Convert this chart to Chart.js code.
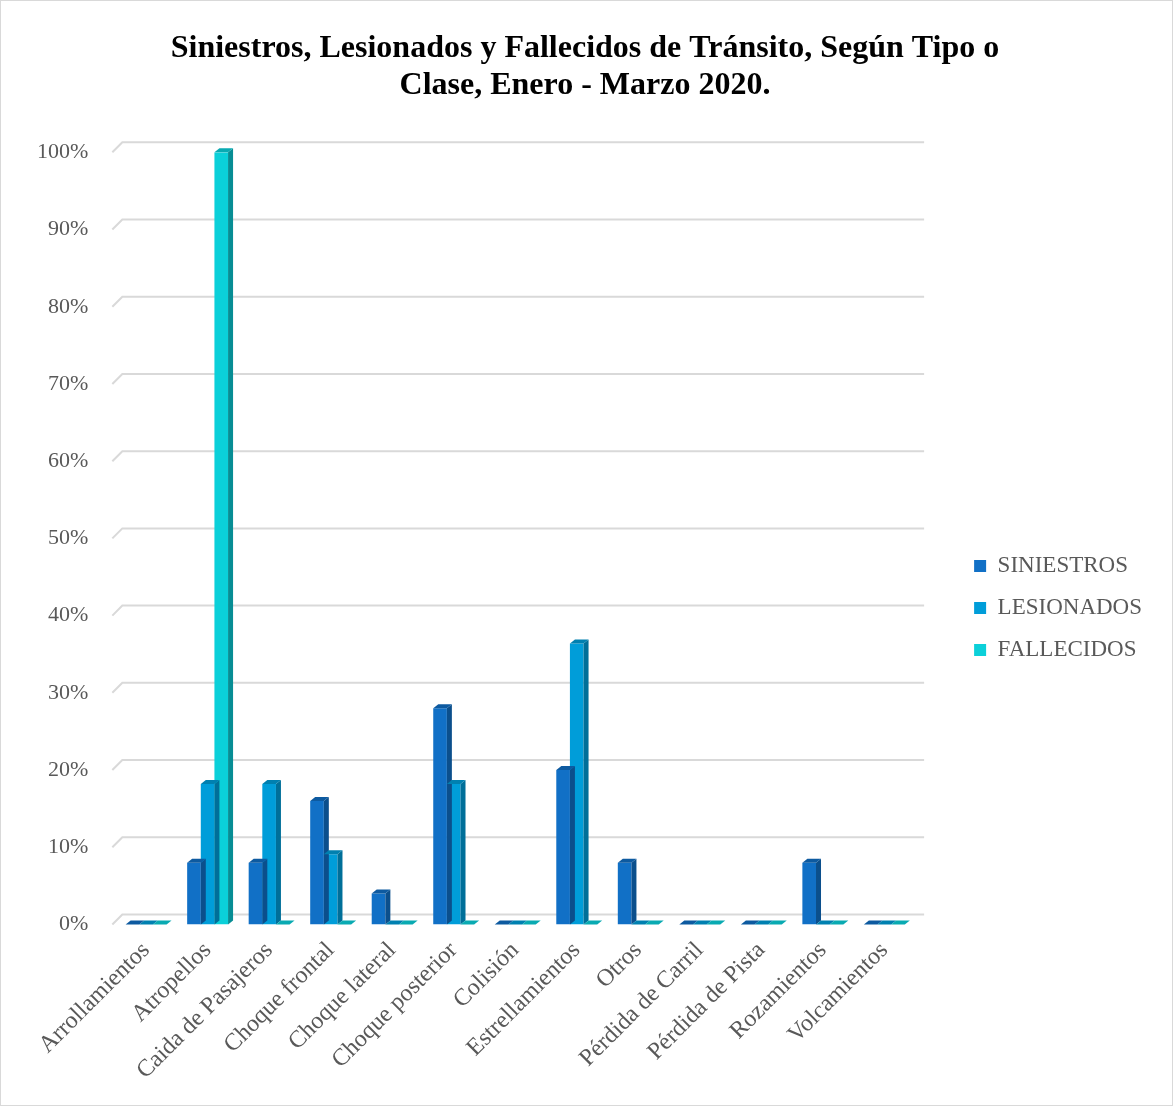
<!DOCTYPE html>
<html>
<head>
<meta charset="utf-8">
<script src="https://cdn.jsdelivr.net/npm/chart.js"></script>
<style>
  html, body { margin: 0; padding: 0; background: #fff; }
  #wrap { position: relative; width: 1173px; height: 1106px; box-sizing: border-box; border: 1px solid #d9d9d9; }
</style>
</head>
<body>
<div id="wrap"><canvas id="siniestrosChart"></canvas></div>
<script>
const categories = ['Arrollamientos', 'Atropellos', 'Caida de Pasajeros', 'Choque frontal', 'Choque lateral',
  'Choque posterior', 'Colisión', 'Estrellamientos', 'Otros', 'Pérdida de Carril', 'Pérdida de Pista',
  'Rozamientos', 'Volcamientos'];
const siniestros = [0, 8, 8, 16, 4, 28, 0, 20, 8, 0, 0, 8, 0];
const lesionados = [0, 18.2, 18.2, 9.1, 0, 18.2, 0, 36.4, 0, 0, 0, 0, 0];
const fallecidos = [0, 100, 0, 0, 0, 0, 0, 0, 0, 0, 0, 0, 0];
const yTicks = [0, 10, 20, 30, 40, 50, 60, 70, 80, 90, 100];

const colors = ['#1170C6', '#009DD9', '#0BD0D9'];
const sideColors = ['#0B4F8C', '#006F99', '#078D94'];
const topColors = ['#0D5AA0', '#0080B0', '#09AAB2'];

// gridlines on the back wall, offset like the 3D original
const backGrid = {
  id: 'backGrid',
  beforeDatasetsDraw(chart) {
    const ctx = chart.ctx, y = chart.scales.y, area = chart.chartArea;
    ctx.save();
    ctx.strokeStyle = '#d9d9d9';
    ctx.lineWidth = 2;
    yTicks.forEach(v => {
      const py = y.getPixelForValue(v);
      ctx.beginPath();
      ctx.moveTo(area.left - 3, py);
      ctx.lineTo(area.left + 7, py - 10);
      ctx.lineTo(area.right + 9, py - 10);
      ctx.stroke();
    });
    ctx.restore();
  }
};

// fake 3D faces on each bar
const bars3d = {
  id: 'bars3d',
  afterDatasetsDraw(chart) {
    const ctx = chart.ctx;
    const dx = 5, dy = 4;
    chart.data.datasets.forEach((ds, i) => {
      chart.getDatasetMeta(i).data.forEach(bar => {
        const left = bar.x - bar.width / 2, right = bar.x + bar.width / 2;
        const top = bar.y, base = bar.base;
        ctx.save();
        ctx.fillStyle = sideColors[i];
        ctx.beginPath();
        ctx.moveTo(right, base);
        ctx.lineTo(right, top);
        ctx.lineTo(right + dx, top - dy);
        ctx.lineTo(right + dx, base - dy);
        ctx.closePath();
        ctx.fill();
        ctx.fillStyle = topColors[i];
        ctx.beginPath();
        ctx.moveTo(left, top);
        ctx.lineTo(right, top);
        ctx.lineTo(right + dx, top - dy);
        ctx.lineTo(left + dx, top - dy);
        ctx.closePath();
        ctx.fill();
        ctx.restore();
      });
    });
  }
};

Chart.defaults.font.family = '"Liberation Serif", "Times New Roman", serif';
Chart.defaults.color = '#595959';

new Chart(document.getElementById('siniestrosChart'), {
  type: 'bar',
  data: {
    labels: categories,
    datasets: [
      { label: 'SINIESTROS', data: siniestros, backgroundColor: colors[0] },
      { label: 'LESIONADOS', data: lesionados, backgroundColor: colors[1] },
      { label: 'FALLECIDOS', data: fallecidos, backgroundColor: colors[2] }
    ]
  },
  options: {
    responsive: true,
    maintainAspectRatio: false,
    animation: false,
    layout: { padding: { left: 17, right: 20, top: 30, bottom: 16 } },
    datasets: { bar: { categoryPercentage: 0.665, barPercentage: 1.0 } },
    plugins: {
      title: {
        display: true,
        text: ['Siniestros, Lesionados y Fallecidos de Tránsito, Según Tipo o', 'Clase, Enero - Marzo 2020.'],
        color: '#000',
        font: { size: 32, weight: 'bold', lineHeight: 1.13 },
        padding: { top: 0, bottom: 49 }
      },
      legend: {
        position: 'right',
        maxWidth: 260,
        title: { display: true, text: ' ', font: { size: 10 }, padding: { top: 42, bottom: 42 } },
        labels: { boxWidth: 12, boxHeight: 12, padding: 19, font: { size: 23 }, color: '#595959' }
      },
      tooltip: { enabled: false }
    },
    scales: {
      x: {
        grid: { display: false },
        border: { display: false },
        ticks: { maxRotation: 45, minRotation: 45, font: { size: 24 }, color: '#595959', padding: 4 },
        afterFit: axis => { axis.paddingLeft = 0; axis.paddingRight = 0; }
      },
      y: {
        min: 0,
        max: 100,
        afterBuildTicks: axis => { axis.ticks = yTicks.map(v => ({ value: v })); },
        grid: { display: false },
        border: { display: false },
        ticks: { callback: v => v + '%', font: { size: 22 }, color: '#595959', padding: 19 }
      },
      gap: {
        position: 'right',
        grid: { display: false },
        border: { display: false },
        ticks: { display: false },
        afterFit: axis => { axis.width = 40; }
      }
    }
  },
  plugins: [backGrid, bars3d]
});
</script>
</body>
</html>
